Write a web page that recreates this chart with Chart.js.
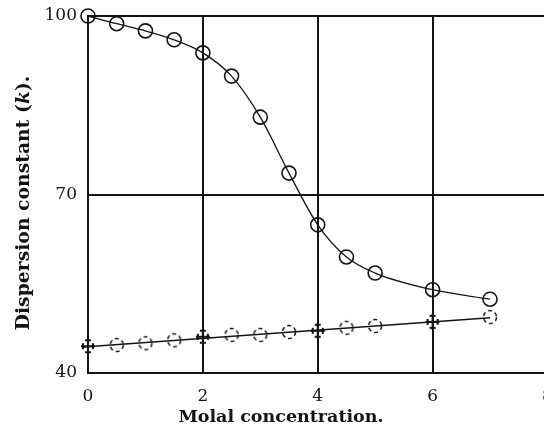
<!DOCTYPE html>
<html>
<head>
<meta charset="utf-8">
<title>Dispersion constant vs molal concentration</title>
<script src="https://cdn.jsdelivr.net/npm/chart.js"></script>
<style>
html, body { margin:0; padding:0; background:#fff; }
#wrap { width:544px; height:432px; }
</style>
</head>
<body>
<div id="wrap"><canvas id="chart" width="544" height="432"></canvas></div>
<script>
// ---------------- DATA ----------------
const conc   = [0, 0.5, 1, 1.5, 2, 2.5, 3, 3.5, 4, 4.5, 5, 6, 7];
const upperK = [100, 98.7, 97.5, 96.0, 93.8, 89.9, 83.0, 73.6, 64.9, 59.5, 56.8, 54.0, 52.4];
const lowerK = [44.5, 44.7, 45.0, 45.5, 46.1, 46.4, 46.4, 46.9, 47.1, 47.6, 47.9, 48.6, 49.4];
const fitConc = [-0.08, 7];
const fitK    = [44.35, 49.3];
const xTicks = [0, 2, 4, 6, 8];
const yTicks = [40, 70, 100];

const INK = "#141414";
const SERIF = "'DejaVu Serif', 'Liberation Serif', serif";

// -------- custom markers --------
function dashedCircle(){
    const c = document.createElement("canvas");
    c.width = 18; c.height = 18;
    const g = c.getContext("2d");
    g.strokeStyle = INK;
    g.lineWidth = 1.5;
    g.setLineDash([4, 3]);
    g.beginPath();
    g.arc(9, 9, 6.5, 0, Math.PI*2);
    g.stroke();
    return c;
}
function bracketCross(){
    const c = document.createElement("canvas");
    c.width = 18; c.height = 18;
    const g = c.getContext("2d");
    g.strokeStyle = INK;
    g.lineWidth = 2;
    g.beginPath();
    g.moveTo(9, 1); g.lineTo(9, 17);
    g.moveTo(2, 9); g.lineTo(16, 9);
    g.moveTo(4, 6); g.lineTo(4, 12);
    g.moveTo(14, 6); g.lineTo(14, 12);
    g.moveTo(6, 3); g.lineTo(12, 3);
    g.moveTo(6, 15); g.lineTo(12, 15);
    g.stroke();
    return c;
}
const dashImg = dashedCircle();
const crossImg = bracketCross();

// -------- axis titles --------
const axisTitles = {
    id: "axisTitles",
    afterDraw(chart){
        const ctx = chart.ctx;
        ctx.save();
        ctx.fillStyle = INK;
        ctx.textBaseline = "alphabetic";
        ctx.textAlign = "left";

        // x title
        let xt = "Molal concentration.";
        ctx.font = "bold 16px " + SERIF;
        let s = 16 * 205 / ctx.measureText(xt).width;
        ctx.font = "bold " + s.toFixed(1) + "px " + SERIF;
        ctx.textAlign = "center";
        ctx.fillText(xt, 281, 422);

        // y title with italic k
        ctx.textAlign = "left";
        const parts = [["Dispersion constant (", ""], ["k", "italic "], [").", ""]];
        const fontOf = (st, sz) => st + "bold " + sz + "px " + SERIF;
        const total = sz => parts.reduce((w, p) => { ctx.font = fontOf(p[1], sz); return w + ctx.measureText(p[0]).width; }, 0);
        let ys = (16 * 255 / total(16)).toFixed(1);
        let tw = total(ys);
        ctx.translate(29, 203);
        ctx.rotate(-Math.PI/2);
        let x = -tw/2;
        parts.forEach(p => {
            ctx.font = fontOf(p[1], ys);
            ctx.fillText(p[0], x, 0);
            x += ctx.measureText(p[0]).width;
        });
        ctx.restore();
    }
};

// ---------------- CHART ----------------
const gridOpts = { color: INK, lineWidth: 2, drawTicks: false };
const tickFont = { family: SERIF, size: 17 };

new Chart(document.getElementById("chart"), {
    type: "scatter",
    data: {
        datasets: [
            {
                label: "upper",
                data: conc.map((c, i) => ({ x: c, y: upperK[i] })),
                showLine: true,
                cubicInterpolationMode: "monotone",
                borderColor: INK,
                borderWidth: 1.3,
                pointStyle: "circle",
                pointRadius: 7,
                pointBorderWidth: 1.6,
                pointBorderColor: INK,
                pointBackgroundColor: "rgba(0,0,0,0)",
                clip: false
            },
            {
                label: "lower fit",
                data: fitConc.map((c, i) => ({ x: c, y: fitK[i] })),
                showLine: true,
                borderColor: INK,
                borderWidth: 1.5,
                pointRadius: 0,
                clip: false
            },
            {
                label: "lower",
                data: conc.map((c, i) => ({ x: c, y: lowerK[i] })),
                showLine: false,
                pointStyle: ctx => (conc[ctx.dataIndex] % 2 === 0 ? crossImg : dashImg),
                pointRadius: 7,
                clip: false
            }
        ]
    },
    options: {
        responsive: false,
        animation: false,
        devicePixelRatio: 1,
        layout: { autoPadding: false, padding: { top: 16, left: 0, right: 0, bottom: 0 } },
        plugins: { legend: { display: false }, tooltip: { enabled: false } },
        scales: {
            x: {
                type: "linear",
                min: 0,
                max: 7.94,
                afterBuildTicks: s => { s.ticks = xTicks.map(v => ({ value: v })); },
                afterFit: s => { s.paddingLeft = 0; s.paddingRight = 0; s.height = 59; },
                grid: gridOpts,
                border: { display: true, color: INK, width: 2 },
                ticks: { font: tickFont, color: INK, padding: 13, maxRotation: 0, autoSkip: false }
            },
            y: {
                min: 40,
                max: 100,
                afterBuildTicks: s => { s.ticks = yTicks.map(v => ({ value: v })); },
                afterFit: s => { s.width = 88; s.paddingTop = 0; s.paddingBottom = 0; },
                grid: gridOpts,
                border: { display: true, color: INK, width: 2 },
                ticks: { font: tickFont, color: INK, padding: 11, autoSkip: false }
            }
        }
    },
    plugins: [axisTitles]
});
</script>
</body>
</html>
